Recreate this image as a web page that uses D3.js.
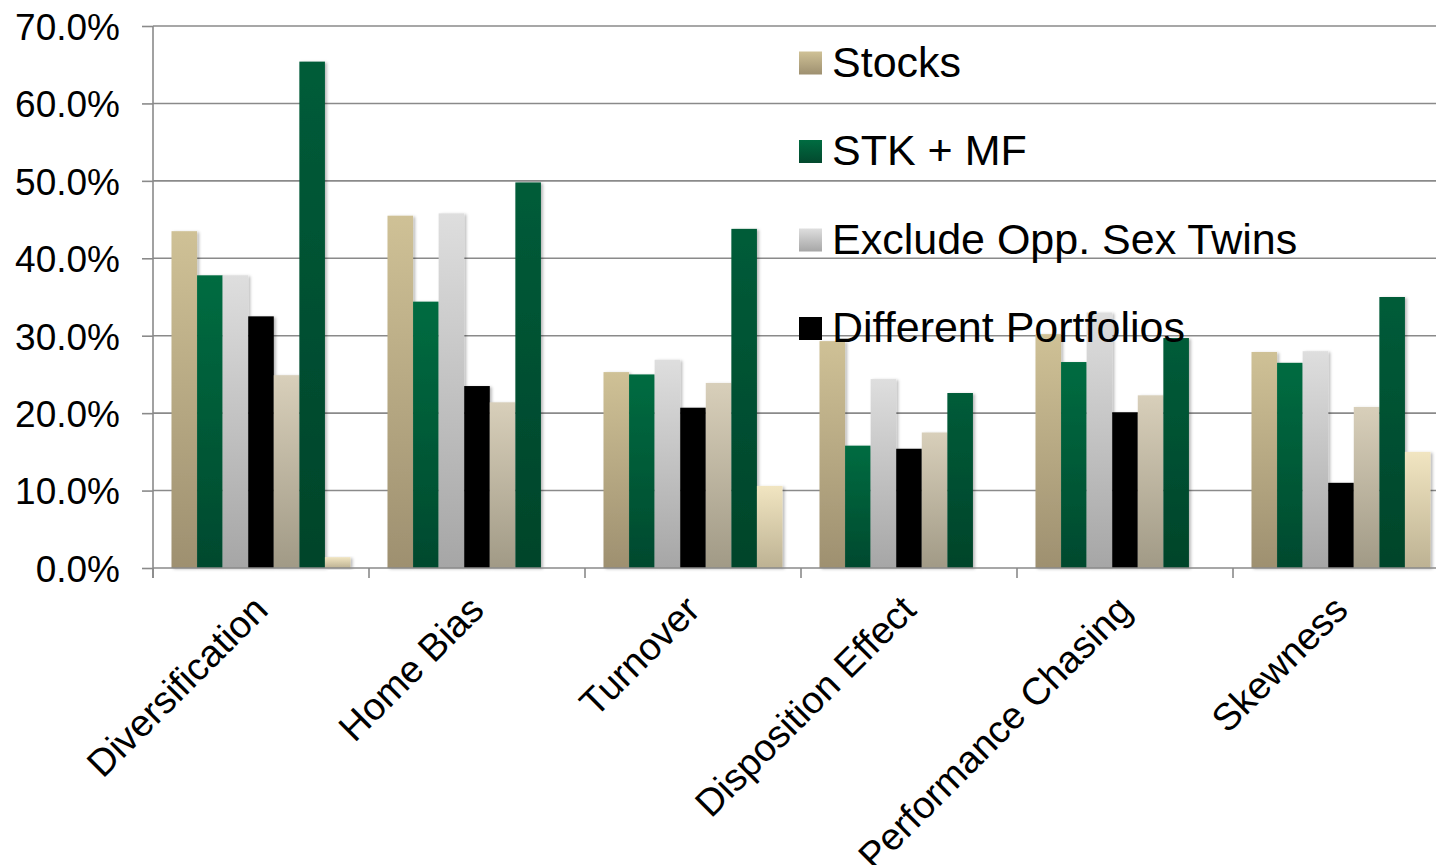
<!DOCTYPE html>
<html>
<head>
<meta charset="utf-8">
<script src="https://cdn.jsdelivr.net/npm/d3@7"></script>
<style>
  html, body { margin: 0; padding: 0; background: #ffffff; }
  svg { display: block; font-family: "Liberation Sans", Arial, sans-serif; }
</style>
</head>
<body>
<svg id="chart" width="1436" height="865"></svg>
<script>
// Behaviour categories on the x axis
const categories = ["Diversification", "Home Bias", "Turnover", "Disposition Effect", "Performance Chasing", "Skewness"];

// Series values (fractions), one value per category
const stocks         = [0.435, 0.455, 0.253, 0.293, 0.302, 0.279];
const stkMf          = [0.378, 0.344, 0.250, 0.158, 0.266, 0.265];
const excludeOppSex  = [0.378, 0.458, 0.269, 0.244, 0.330, 0.280];
const diffPortfolios = [0.325, 0.235, 0.207, 0.154, 0.201, 0.110];
const series5        = [0.249, 0.214, 0.239, 0.175, 0.223, 0.208];
const series6        = [0.654, 0.498, 0.438, 0.226, 0.297, 0.350];
const series7        = [0.014, 0.000, 0.106, 0.000, 0.000, 0.150];

const seriesKeys   = ["s1", "s2", "s3", "s4", "s5", "s6", "s7"];
const seriesValues = [stocks, stkMf, excludeOppSex, diffPortfolios, series5, series6, series7];
const legendNames  = ["Stocks", "STK + MF", "Exclude Opp. Sex Twins", "Different Portfolios"];

// Y axis tick values
const yTicks = [0, 0.1, 0.2, 0.3, 0.4, 0.5, 0.6, 0.7];

// Vertical gradient stops per series (top, bottom)
const gradients = [
  ["#cfc196", "#9e9070"],
  ["#006c41", "#03492e"],
  ["#dedede", "#a6a6a6"],
  ["#000000", "#000000"],
  ["#d8cfba", "#a19a86"],
  ["#005c39", "#02442a"],
  ["#f1e5c1", "#bdb293"]
];

const svg = d3.select("#chart");
const W = 1436, H = 865;
svg.append("rect").attr("width", W).attr("height", H).attr("fill", "#fff");

const plotLeft = 153, groupW = 216;
const plotTop = 26, plotBottom = 568;
const plotRight = plotLeft + groupW * categories.length;

const x0 = d3.scaleBand().domain(categories).range([plotLeft, plotRight]).padding(0);
const x1 = d3.scaleBand().domain(seriesKeys).range([18.5, groupW - 18.5]).padding(0);
const y = d3.scaleLinear().domain([0, 0.7]).range([plotBottom, plotTop]);

const defs = svg.append("defs");
gradients.forEach((g, i) => {
  const lg = defs.append("linearGradient")
    .attr("id", "grad" + i)
    .attr("x1", 0).attr("y1", 0).attr("x2", 0).attr("y2", 1);
  lg.append("stop").attr("offset", "0%").attr("stop-color", g[0]);
  lg.append("stop").attr("offset", "100%").attr("stop-color", g[1]);
});
const shadow = defs.append("filter").attr("id", "shadow")
  .attr("x", "-20%").attr("y", "-5%").attr("width", "150%").attr("height", "115%");
shadow.append("feDropShadow")
  .attr("dx", 2).attr("dy", 1).attr("stdDeviation", 1.8)
  .attr("flood-color", "#000").attr("flood-opacity", 0.28);

const gridColor = "#8a8a8a";

// Horizontal gridlines
svg.append("g")
  .selectAll("line")
  .data(yTicks.slice(1))
  .join("line")
  .attr("x1", plotLeft).attr("x2", plotRight)
  .attr("y1", d => y(d)).attr("y2", d => y(d))
  .attr("stroke", gridColor).attr("stroke-width", 1.6);

// Bars
const groups = svg.append("g")
  .selectAll("g")
  .data(categories)
  .join("g")
  .attr("transform", d => `translate(${x0(d)},0)`);

groups.selectAll("rect")
  .data((c, ci) => seriesKeys.map((k, si) => ({ k, si, v: seriesValues[si][ci] })).filter(d => d.v > 0))
  .join("rect")
  .attr("x", d => x1(d.k))
  .attr("width", x1.bandwidth())
  .attr("y", d => y(d.v))
  .attr("height", d => y(0) - y(d.v))
  .attr("fill", d => `url(#grad${d.si})`)
  .attr("filter", "url(#shadow)");

// Y axis
const yAxis = d3.axisLeft(y)
  .tickValues(yTicks)
  .tickSize(11)
  .tickPadding(22)
  .tickFormat(d3.format(".1%"));
const gy = svg.append("g").attr("transform", `translate(${plotLeft},0)`).call(yAxis);
gy.select(".domain").attr("stroke", gridColor).attr("stroke-width", 1.6)
  .attr("d", `M0,${plotTop}V${plotBottom + 10}`);
gy.selectAll(".tick line").attr("stroke", gridColor).attr("stroke-width", 1.6);
gy.selectAll(".tick text")
  .attr("font-family", "Liberation Sans, Arial, sans-serif")
  .attr("font-size", 37)
  .attr("fill", "#000")
  .attr("dy", "0.36em");

// X axis line with boundary ticks
const gx = svg.append("g");
gx.append("line")
  .attr("x1", plotLeft).attr("x2", plotRight)
  .attr("y1", plotBottom).attr("y2", plotBottom)
  .attr("stroke", gridColor).attr("stroke-width", 1.6);
gx.selectAll("line.tk")
  .data(d3.range(categories.length + 1))
  .join("line")
  .attr("class", "tk")
  .attr("x1", i => plotLeft + i * groupW).attr("x2", i => plotLeft + i * groupW)
  .attr("y1", plotBottom).attr("y2", plotBottom + 10)
  .attr("stroke", gridColor).attr("stroke-width", 1.6);

// Rotated category labels
gx.selectAll("text")
  .data(categories)
  .join("text")
  .attr("transform", d => `translate(${x0(d) + groupW / 2 + 9},${plotBottom + 44}) rotate(-45)`)
  .attr("text-anchor", "end")
  .attr("font-size", 38)
  .attr("fill", "#000")
  .text(d => d);

// Legend
const legend = svg.append("g");
const rowH = 88.5;
legendNames.forEach((name, i) => {
  const yy = 76.5 + i * rowH;
  legend.append("rect")
    .attr("x", 799).attr("y", yy - 25).attr("width", 23).attr("height", 23)
    .attr("fill", `url(#grad${i})`);
  legend.append("text")
    .attr("x", 832).attr("y", yy)
    .attr("font-size", 43)
    .attr("fill", "#000")
    .text(name);
});
</script>
</body>
</html>
